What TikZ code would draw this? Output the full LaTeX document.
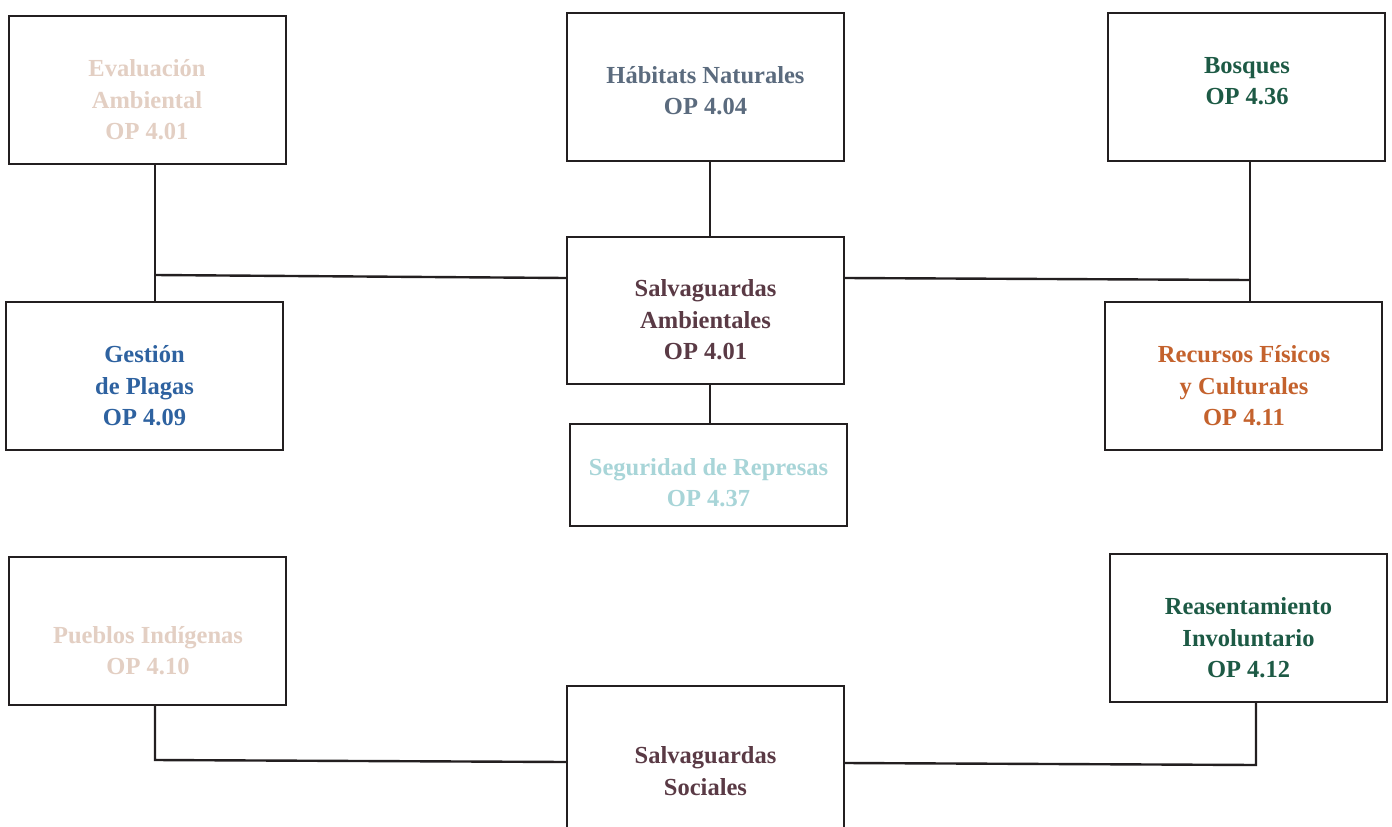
\documentclass[tikz,border=0pt]{standalone}
\usepackage{fontspec}
\setmainfont{Liberation Serif}
\definecolor{cTan}{HTML}{E3CFC3}
\definecolor{cSlate}{HTML}{5B6B7E}
\definecolor{cGreen}{HTML}{1D5A45}
\definecolor{cBlue}{HTML}{2E62A0}
\definecolor{cPlum}{HTML}{5A3A45}
\definecolor{cTeal}{HTML}{A8D5D8}
\definecolor{cOrange}{HTML}{C4622D}
\definecolor{cLine}{HTML}{231F20}
\begin{document}
\begin{tikzpicture}[x=1pt,y=-1pt,
  box/.style={draw=cLine,line width=2.4pt,fill=white,minimum width=277pt,minimum height=148pt,inner sep=0pt},
  lbl/.style={align=center,font=\fontsize{24.5}{31.5}\selectfont\bfseries,inner sep=0pt},
  link/.style={draw=cLine,line width=2.4pt}]
\useasboundingbox (0,0) rectangle (1392,827);
\clip (0,0) rectangle (1392,827);
\node[box] (eva) at (147.5,90) {};
\node[box] (hab) at (705.5,87) {};
\node[box] (bos) at (1246.5,87) {};
\node[box] (ges) at (144.5,376) {};
\node[box,minimum height=147pt] (sam) at (705.5,310.5) {};
\node[box] (rec) at (1243.5,376) {};
\node[box,minimum height=102pt] (seg) at (708.5,475) {};
\node[box] (pue) at (147.5,631) {};
\node[box] (rea) at (1248.5,628) {};
\node[box,minimum height=170pt] (soc) at (705.5,771) {};
\node[lbl,text=cTan] (eva-t) at (147,100) {Evaluación\\Ambiental\\OP 4.01};
\node[lbl,text=cSlate] (hab-t) at (705.5,90.5) {Hábitats Naturales\\OP 4.04};
\node[lbl,text=cGreen] (bos-t) at (1247,81) {Bosques\\OP 4.36};
\node[lbl,text=cBlue] (ges-t) at (144.5,386) {Gestión\\de Plagas\\OP 4.09};
\node[lbl,text=cPlum] (sam-t) at (705.5,320) {Salvaguardas\\Ambientales\\OP 4.01};
\node[lbl,text=cOrange] (rec-t) at (1244,386) {Recursos Físicos\\y Culturales\\OP 4.11};
\node[lbl,text=cTeal] (seg-t) at (708.5,482.5) {Seguridad de Represas\\OP 4.37};
\node[lbl,text=cTan] (pue-t) at (148,650.5) {Pueblos Indígenas\\OP 4.10};
\node[lbl,text=cGreen] (rea-t) at (1248.5,638) {Reasentamiento\\Involuntario\\OP 4.12};
\node[lbl,text=cPlum] (soc-t) at (705.5,771) {Salvaguardas\\Sociales};
\coordinate (jl) at (155,275);
\coordinate (jr) at (1250,280);
\coordinate (pl) at (155,760);
\coordinate (pr) at (1256,765);
\draw[link] (eva.south -| jl) -- (ges.north -| jl);
\draw[link] (jl) -- (sam.west |- 0,278);
\draw[link] (hab.south -| 710,0) -- (sam.north -| 710,0);
\draw[link] (bos.south -| jr) -- (rec.north -| jr);
\draw[link] (sam.east |- 0,278) -- (jr);
\draw[link] (sam.south -| 710,0) -- (seg.north -| 710,0);
\draw[link] (pue.south -| pl) -- (pl) -- (soc.west |- 0,762);
\draw[link] (rea.south -| pr) -- (pr) -- (soc.east |- 0,763);
\end{tikzpicture}
\end{document}
